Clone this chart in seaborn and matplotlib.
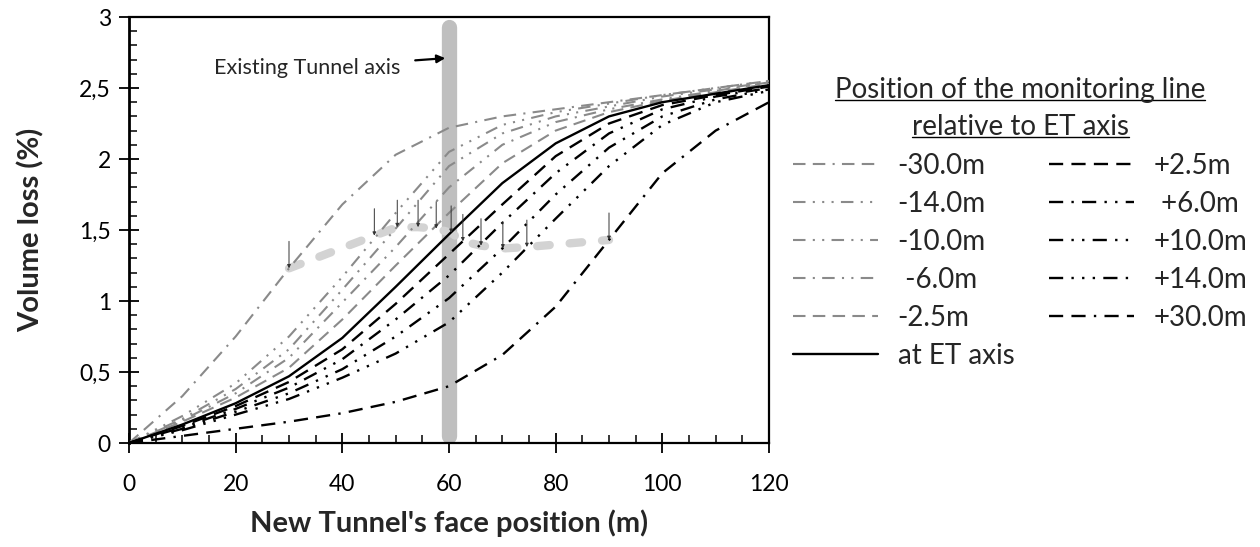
import numpy as np
import pandas as pd
import seaborn as sns
import matplotlib.pyplot as plt
from matplotlib.ticker import MultipleLocator, FuncFormatter
from matplotlib.lines import Line2D

# New tunnel face position (m)
face_pos = [0, 10, 20, 30, 40, 50, 60, 70, 80, 90, 100, 110, 120]

# Volume loss (%) per monitoring line
vl_m30 = [0, 0.33, 0.75, 1.23, 1.68, 2.03, 2.22, 2.30, 2.35, 2.40, 2.45, 2.50, 2.55]
vl_m14 = [0, 0.19, 0.42, 0.75, 1.17, 1.62, 2.05, 2.24, 2.33, 2.39, 2.45, 2.50, 2.55]
vl_m10 = [0, 0.17, 0.38, 0.66, 1.08, 1.51, 1.95, 2.18, 2.30, 2.37, 2.44, 2.49, 2.54]
vl_m6 = [0, 0.16, 0.35, 0.60, 0.99, 1.38, 1.80, 2.10, 2.26, 2.35, 2.42, 2.48, 2.54]
vl_m2_5 = [0, 0.15, 0.32, 0.53, 0.87, 1.25, 1.62, 1.97, 2.20, 2.33, 2.41, 2.47, 2.53]
vl_axis = [0, 0.13, 0.28, 0.47, 0.74, 1.10, 1.47, 1.83, 2.11, 2.30, 2.40, 2.46, 2.52]
vl_p2_5 = [0, 0.12, 0.26, 0.43, 0.66, 0.98, 1.33, 1.68, 2.02, 2.25, 2.38, 2.45, 2.51]
vl_p6 = [0, 0.11, 0.24, 0.39, 0.59, 0.87, 1.18, 1.55, 1.90, 2.18, 2.35, 2.44, 2.50]
vl_p10 = [0, 0.10, 0.22, 0.35, 0.52, 0.75, 1.02, 1.37, 1.75, 2.08, 2.30, 2.42, 2.49]
vl_p14 = [0, 0.09, 0.20, 0.31, 0.46, 0.63, 0.85, 1.20, 1.58, 1.95, 2.24, 2.40, 2.48]
vl_p30 = [0, 0.05, 0.10, 0.15, 0.21, 0.29, 0.40, 0.62, 0.96, 1.43, 1.90, 2.20, 2.40]

labels = ["-30.0m", "-14.0m", "-10.0m", " -6.0m", "-2.5m", "at ET axis",
          "+2.5m", " +6.0m", "+10.0m", "+14.0m", "+30.0m"]
series = [vl_m30, vl_m14, vl_m10, vl_m6, vl_m2_5, vl_axis,
          vl_p2_5, vl_p6, vl_p10, vl_p14, vl_p30]

# Points where each curve is marked (face = ET axis + offset)
mark_x = [30, 46, 50.3, 54.2, 57.6, 60.4, 62.6, 66, 70.1, 74.6, 90]
mark_y = [1.23, 1.46, 1.52, 1.52, 1.51, 1.48, 1.42, 1.39, 1.37, 1.38, 1.43]

tunnel_axis_x = 60

# Styles
grey = "#8a8a8a"
colors = [grey] * 5 + ["black"] * 6
D, G, P = 6, 3.5, 1
dash_list = [
    (D, G, D, G, P, G),             # -30
    (D, G, P, G, P, G, P, G),       # -14
    (D, G, P, G, P, G),             # -10
    (D, G, P, G, D, G, P, G, P, G), # -6
    (D, G),                         # -2.5
    "",                             # axis
    (D, G),                         # +2.5
    (D, G, P, G, D, G, P, G, P, G), # +6
    (D, G, P, G, P, G),             # +10
    (D, G, P, G, P, G, P, G),       # +14
    (D, G, D, G, P, G),             # +30
]

df = pd.concat([pd.DataFrame({"face": face_pos, "vl": s, "line": lab})
                for lab, s in zip(labels, series)], ignore_index=True)

sns.set_style("white")
plt.rcParams["font.family"] = ["Lato", "DejaVu Sans"]

fig = plt.figure(figsize=(12.6, 5.47), dpi=100)
ax = fig.add_axes([129 / 1260, 104 / 547, 640 / 1260, 426 / 547])

sns.lineplot(data=df, x="face", y="vl", hue="line", style="line",
             hue_order=labels, style_order=labels,
             palette=dict(zip(labels, colors)),
             dashes=dict(zip(labels, dash_list)),
             errorbar=None, legend=False, ax=ax, zorder=4)

curve_lines = list(ax.lines[:len(labels)])
for ln, c in zip(curve_lines, colors):
    ln.set_linewidth(1.5 if c == grey else 1.7)

# Existing tunnel axis bar
ax.axvline(tunnel_axis_x, ymin=0.017, ymax=0.977, color="#bfbfbf", lw=11,
           solid_capstyle="round", zorder=2)

# thick light dashed line through marked points
ax.plot(mark_x, mark_y, color="#d3d3d3", lw=6, dashes=(1.5, 2.4),
        dash_capstyle="round", zorder=3)

for mx, my in zip(mark_x, mark_y):
    ax.annotate("", xy=(mx, my), xytext=(mx, my + 0.19),
                arrowprops=dict(arrowstyle="-|>", color="#333333", lw=0.7,
                                mutation_scale=5, shrinkA=0, shrinkB=0),
                zorder=5)

ax.annotate("Existing Tunnel axis", xy=(59.3, 2.71), xytext=(33.5, 2.64),
            ha="center", va="center", fontsize=15.5,
            arrowprops=dict(arrowstyle="-|>", color="black", lw=1.6,
                            mutation_scale=12, shrinkA=8, shrinkB=0))

ax.set_xlim(0, 120)
ax.set_ylim(0, 3)
ax.xaxis.set_major_locator(MultipleLocator(20))
ax.xaxis.set_minor_locator(MultipleLocator(5))
ax.yaxis.set_major_locator(MultipleLocator(0.5))
ax.yaxis.set_minor_locator(MultipleLocator(0.1))
ax.yaxis.set_major_formatter(FuncFormatter(lambda v, p: f"{v:g}".replace(".", ",")))

ax.tick_params(which="major", direction="inout", length=14, width=1.3,
               labelsize=16.5, color="black", labelcolor="black")
ax.tick_params(which="minor", direction="in", length=6, width=1.1, color="black")
ax.tick_params(axis="x", which="major", pad=15)
ax.tick_params(axis="y", which="major", pad=6)
ax.tick_params(top=False, right=False, which="both")
ax.tick_params(bottom=True, left=True, which="both")

for side in ["left", "bottom", "top", "right"]:
    ax.spines[side].set_color("black")
    ax.spines[side].set_linewidth(1.6)
ax.spines["left"].set_linewidth(2.0)

ax.set_xlabel("New Tunnel's face position (m)", fontsize=21, fontweight="bold",
              labelpad=11)
ax.set_ylabel("Volume loss (%)", fontsize=21, fontweight="bold", labelpad=25)

leg = fig.legend(curve_lines, labels, ncol=2, loc="upper left",
                 bbox_to_anchor=(793 / 1260, 1 - 153 / 547), frameon=False,
                 fontsize=20, handlelength=3.05, handletextpad=0.72,
                 columnspacing=1.25, labelspacing=0.43, borderpad=0,
                 borderaxespad=0)

t1 = fig.text(1020 / 1260, 1 - 90 / 547, "Position of the monitoring line",
              ha="center", va="center", fontsize=20)
t2 = fig.text(1020 / 1260, 1 - 127 / 547, "relative to ET axis",
              ha="center", va="center", fontsize=20)
fig.canvas.draw()
rend = fig.canvas.get_renderer()
for t in (t1, t2):
    bb = t.get_window_extent(rend).transformed(fig.transFigure.inverted())
    yy = bb.y0 + 3 / 547
    fig.add_artist(Line2D([bb.x0, bb.x1], [yy, yy], color="black", lw=1.0,
                          transform=fig.transFigure))

fig.savefig("out.png", dpi=100)
